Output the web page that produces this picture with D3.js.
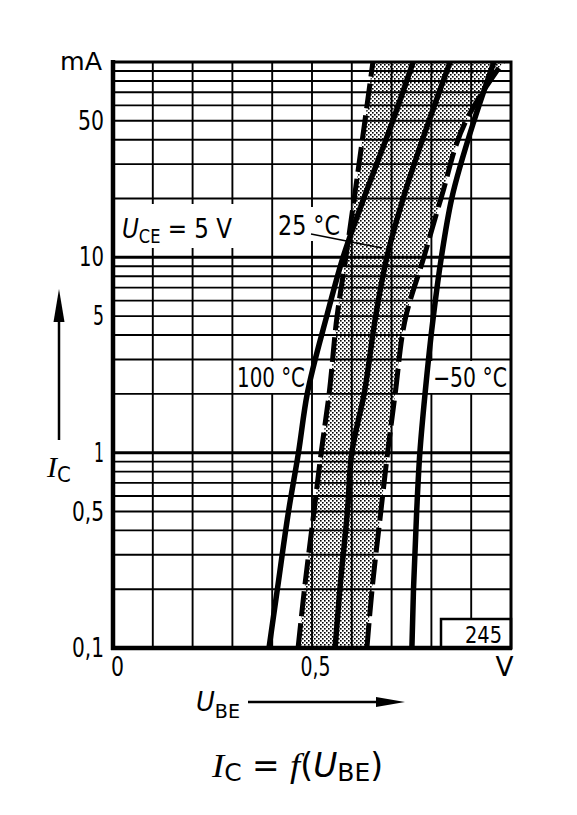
<!DOCTYPE html>
<html>
<head>
<meta charset="utf-8">
<script src="https://cdn.jsdelivr.net/npm/d3@7"></script>
<style>
  html, body { margin: 0; padding: 0; background: #fff; }
  svg { display: block; }
  .lab { font-family: "DejaVu Sans Condensed", "DejaVu Sans", "Liberation Sans", sans-serif; font-stretch: condensed; fill: #000; }
</style>
</head>
<body>
<script>
// ---------- data ----------
const currentsmA   = [0.1, 0.2, 0.5, 1, 2, 5, 10, 20, 50, 100];          // I_C in mA
const ube100C      = [0.392, 0.413, 0.441, 0.466, 0.488, 0.537, 0.578, 0.630, 0.703, 0.754];
const ube25C       = [0.558, 0.570, 0.589, 0.600, 0.631, 0.660, 0.688, 0.729, 0.794, 0.847];
const ubeMinus50C  = [0.751, 0.755, 0.763, 0.771, 0.784, 0.805, 0.825, 0.851, 0.907, 0.957];
const band25Min    = [0.465, 0.481, 0.505, 0.523, 0.543, 0.563, 0.585, 0.606, 0.633, 0.653];
const band25Max    = [0.638, 0.651, 0.673, 0.690, 0.709, 0.736, 0.781, 0.824, 0.887, 0.980];

const yTickValues  = [0.1, 0.5, 1, 5, 10, 50];
const yTickLabels  = ["0,1", "0,5", "1", "5", "10", "50"];
const xTickValues  = [0, 0.5, 1];
const xTickLabels  = ["0", "0,5", "V"];
const gridVolts    = [0.1, 0.2, 0.3, 0.4, 0.5, 0.6, 0.7, 0.8, 0.9];
const gridCurrents = [0.2,0.3,0.4,0.5,0.6,0.7,0.8,0.9, 1, 2,3,4,5,6,7,8,9, 10, 20,30,40,50,60,70,80,90];
const decadeLines  = [1, 10];

// ---------- layout ----------
const W = 577, H = 815;
const L = 113, R = 511, T = 62, B = 648;
const labelWidth = { "0,1": 32, "0,5": 32, "1": 10, "5": 11, "10": 25, "50": 26 };
const xLabelWidth = { "0": 13, "0,5": 30, "V": 18 };

const svg = d3.select("body").append("svg").attr("width", W).attr("height", H);

const x = d3.scaleLinear().domain([0, 1]).range([L, R]);
const y = d3.scaleLog().domain([0.1, 100]).range([B, T]);

// stipple pattern for the 25 °C spread band
const defs = svg.append("defs");
const pat = defs.append("pattern").attr("id", "stip").attr("patternUnits", "userSpaceOnUse")
  .attr("width", 4).attr("height", 4);
pat.append("rect").attr("x", 0).attr("y", 0).attr("width", 1.6).attr("height", 1.6).attr("fill", "#000");
pat.append("rect").attr("x", 2).attr("y", 2).attr("width", 1.6).attr("height", 1.6).attr("fill", "#000");
defs.append("clipPath").attr("id", "plotclip").append("rect")
  .attr("x", L).attr("y", T).attr("width", R - L).attr("height", B - T);

const plot = svg.append("g").attr("clip-path", "url(#plotclip)");

// band
const bandData = currentsmA.map((c, i) => ({ c, lo: band25Min[i], hi: band25Max[i] }));
plot.append("path")
  .datum(bandData)
  .attr("fill", "url(#stip)")
  .attr("d", d3.area().curve(d3.curveMonotoneY)
    .y(d => y(d.c)).x0(d => x(d.lo)).x1(d => x(d.hi)));

// grid
const grid = svg.append("g").attr("stroke", "#000").attr("fill", "none");
grid.selectAll("line.v").data(gridVolts).join("line")
  .attr("x1", d => x(d)).attr("x2", d => x(d)).attr("y1", T).attr("y2", B)
  .attr("stroke-width", 1.9);
grid.selectAll("line.h").data(gridCurrents).join("line")
  .attr("x1", L).attr("x2", R).attr("y1", d => y(d)).attr("y2", d => y(d))
  .attr("stroke-width", d => decadeLines.includes(d) ? 3 : 1.9);

// white boxes behind in-plot labels
const boxes = [
  { x: 116, y: 204, w: 122, h: 44 },
  { x: 276, y: 207, w: 66, h: 34 },
  { x: 234, y: 361, w: 72, h: 32 },
  { x: 430, y: 361, w: 78, h: 32 }
];
svg.selectAll("rect.box").data(boxes).join("rect")
  .attr("x", d => d.x).attr("y", d => d.y).attr("width", d => d.w).attr("height", d => d.h)
  .attr("fill", "#fff");

// 245 box
svg.append("rect").attr("x", 441).attr("y", 619).attr("width", R - 441).attr("height", B - 619)
  .attr("fill", "#fff").attr("stroke", "#000").attr("stroke-width", 2.5);
svg.append("text").attr("class", "lab").attr("x", 465).attr("y", 643)
  .attr("font-size", 23).attr("textLength", 37).attr("lengthAdjust", "spacingAndGlyphs").text("245");

// curves
const curves = svg.append("g").attr("clip-path", "url(#plotclip)").attr("fill", "none")
  .attr("stroke", "#000").attr("stroke-linecap", "butt");
const lineGen = vals => d3.line().curve(d3.curveMonotoneY)
  .x((c, i) => x(vals[i])).y(c => y(c))(currentsmA);

curves.append("path").attr("d", lineGen(band25Min)).attr("stroke-width", 5).attr("stroke-dasharray", "25,7");
curves.append("path").attr("d", lineGen(band25Max)).attr("stroke-width", 5).attr("stroke-dasharray", "25,7");
curves.append("path").attr("d", lineGen(ube100C)).attr("stroke-width", 5.5);
curves.append("path").attr("d", lineGen(ube25C)).attr("stroke-width", 5.5);
curves.append("path").attr("d", lineGen(ubeMinus50C)).attr("stroke-width", 5.5);

// 25 °C leader line
svg.append("line").attr("x1", 311).attr("y1", 234).attr("x2", 382).attr("y2", 248)
  .attr("stroke", "#000").attr("stroke-width", 1.3);

// frame
svg.append("rect").attr("x", L).attr("y", T).attr("width", R - L).attr("height", B - T)
  .attr("fill", "none").attr("stroke", "#000").attr("stroke-width", 3);
svg.append("line").attr("x1", L).attr("x2", L).attr("y1", T - 2).attr("y2", B + 2)
  .attr("stroke", "#000").attr("stroke-width", 4.5);
svg.append("line").attr("x1", L - 2).attr("x2", R + 1).attr("y1", B).attr("y2", B)
  .attr("stroke", "#000").attr("stroke-width", 4.5);

// axes labels
const yAxis = svg.append("g").attr("transform", `translate(${L},0)`)
  .call(d3.axisLeft(y).tickValues(yTickValues).tickFormat((d, i) => yTickLabels[i]).tickSize(0).tickPadding(9));
yAxis.select(".domain").remove();
yAxis.selectAll("text").attr("class", "lab").attr("font-size", 27).attr("fill", "#000")
  .attr("textLength", (d, i) => labelWidth[yTickLabels[i]]).attr("lengthAdjust", "spacingAndGlyphs");

const xAxis = svg.append("g").attr("transform", `translate(0,${B})`)
  .call(d3.axisBottom(x).tickValues(xTickValues).tickFormat((d, i) => xTickLabels[i]).tickSize(0).tickPadding(9));
xAxis.select(".domain").remove();
xAxis.selectAll("text").attr("class", "lab").attr("font-size", 27).attr("fill", "#000")
  .attr("textLength", (d, i) => xLabelWidth[xTickLabels[i]]).attr("lengthAdjust", "spacingAndGlyphs")
  .attr("dx", (d, i) => [4, 3, -7][i]);

svg.append("text").attr("class", "lab").attr("x", 60).attr("y", 70)
  .attr("font-size", 25).attr("textLength", 42).attr("lengthAdjust", "spacingAndGlyphs").text("mA");

// in-plot labels
const uce = svg.append("text").attr("class", "lab").attr("x", 122).attr("y", 238).attr("font-size", 27)
  .attr("textLength", 110).attr("lengthAdjust", "spacingAndGlyphs");
uce.append("tspan").attr("font-style", "italic").text("U");
uce.append("tspan").attr("font-size", 19).attr("dy", 5).text("CE");
uce.append("tspan").attr("dy", -5).text(" = 5 V");

svg.append("text").attr("class", "lab").attr("x", 278).attr("y", 235).attr("font-size", 27)
  .attr("textLength", 62).attr("lengthAdjust", "spacingAndGlyphs").text("25 °C");
svg.append("text").attr("class", "lab").attr("x", 237).attr("y", 387).attr("font-size", 27)
  .attr("textLength", 68).attr("lengthAdjust", "spacingAndGlyphs").text("100 °C");
svg.append("text").attr("class", "lab").attr("x", 433).attr("y", 387).attr("font-size", 27)
  .attr("textLength", 74).attr("lengthAdjust", "spacingAndGlyphs").text("−50 °C");

// I_C arrow
svg.append("line").attr("x1", 59).attr("x2", 59).attr("y1", 440).attr("y2", 315)
  .attr("stroke", "#000").attr("stroke-width", 2.5);
svg.append("path").attr("d", "M59,289 L53.5,322 L64.5,322 Z").attr("fill", "#000");
const ic = svg.append("text").attr("x", 47).attr("y", 477).attr("font-size", 30);
ic.append("tspan").attr("font-family", "Liberation Serif, serif").attr("font-style", "italic").text("I");
ic.append("tspan").attr("class", "lab").attr("font-size", 22).attr("dy", 5).text("C");

// U_BE arrow
const ube = svg.append("text").attr("class", "lab").attr("x", 196).attr("y", 711).attr("font-size", 27)
  .attr("textLength", 44).attr("lengthAdjust", "spacingAndGlyphs");
ube.append("tspan").attr("font-style", "italic").text("U");
ube.append("tspan").attr("font-size", 20).attr("dy", 7).text("BE");
svg.append("line").attr("x1", 248).attr("x2", 385).attr("y1", 702).attr("y2", 702)
  .attr("stroke", "#000").attr("stroke-width", 2.5);
svg.append("path").attr("d", "M405,702 L376,697 L376,707 Z").attr("fill", "#000");

// title
const title = svg.append("text").attr("class", "lab").attr("x", 212).attr("y", 777).attr("font-size", 33)
  .attr("textLength", 171).attr("lengthAdjust", "spacingAndGlyphs");
title.append("tspan").attr("font-family", "Liberation Serif, serif").attr("font-style", "italic").text("I");
title.append("tspan").attr("font-size", 25).attr("dy", 4).text("C");
title.append("tspan").attr("dy", -4).text(" = ");
title.append("tspan").attr("font-family", "Liberation Serif, serif").attr("font-style", "italic").text("f");
title.append("tspan").text("(");
title.append("tspan").attr("font-style", "italic").text("U");
title.append("tspan").attr("font-size", 25).attr("dy", 4).text("BE");
title.append("tspan").attr("dy", -4).text(")");
</script>
</body>
</html>
